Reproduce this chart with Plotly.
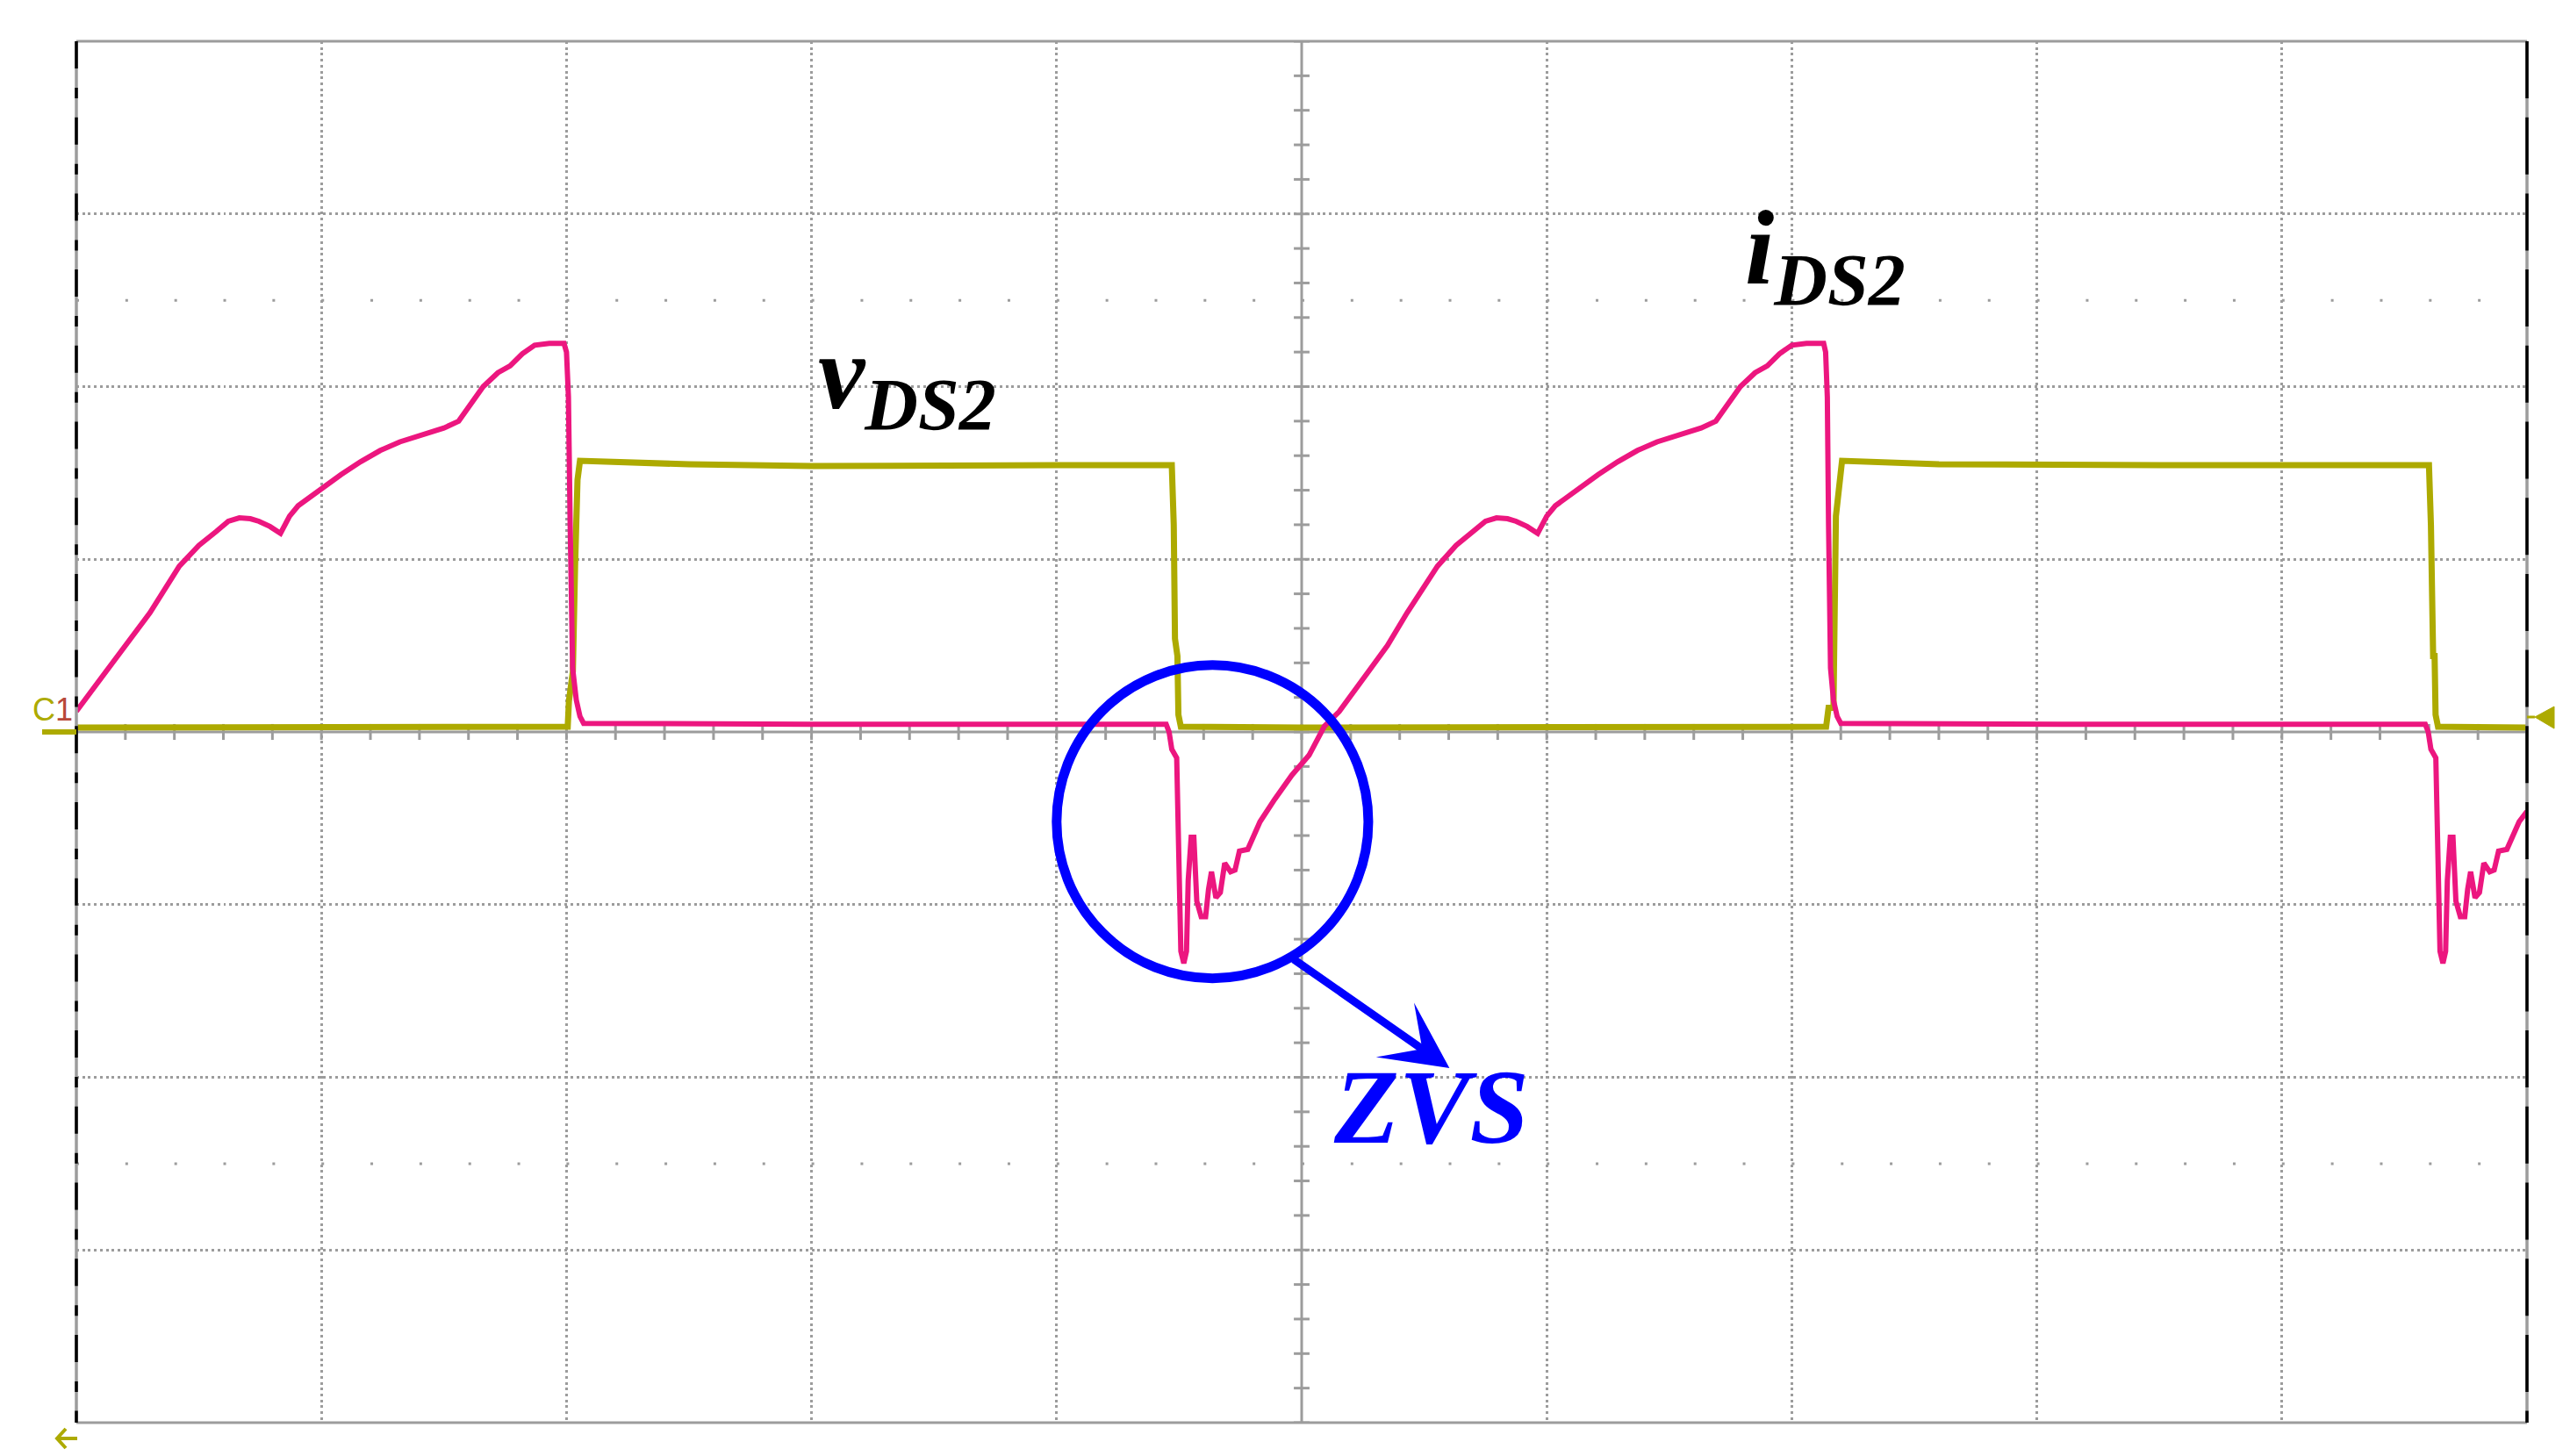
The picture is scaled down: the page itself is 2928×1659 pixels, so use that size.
import plotly.graph_objects as go

# ---------------- data (time and amplitude in screen divisions) ----------------
# v_DS2 (yellow trace)
vds2_t = [0.000, 1.000, 2.000, 2.005, 2.010, 2.026, 2.035, 2.045, 2.055,
          2.500, 3.000, 3.500, 4.000, 4.470, 4.478, 4.483, 4.487, 4.493, 4.497, 4.507,
          5.000, 6.000, 7.000, 7.140, 7.150, 7.170, 7.180, 7.195, 7.205,
          7.600, 8.000, 8.500, 9.000, 9.600, 9.608, 9.613, 9.617, 9.623, 9.627, 9.637,
          10.000]
vds2_v = [0.025, 0.025, 0.025, 0.030, 0.180, 0.350, 0.960, 1.460, 1.570,
          1.550, 1.540, 1.545, 1.545, 1.545, 1.200, 0.540, 0.440, 0.440, 0.100, 0.030,
          0.025, 0.025, 0.025, 0.030, 0.140, 0.140, 1.250, 1.480, 1.570,
          1.550, 1.545, 1.545, 1.545, 1.545, 1.200, 0.540, 0.440, 0.440, 0.100, 0.030,
          0.025]

# i_DS2 (pink trace)
ids2_t = [0.000, 0.100, 0.200, 0.300, 0.420, 0.500, 0.570, 0.620, 0.665, 0.710,
          0.745, 0.790, 0.833, 0.870, 0.905, 1.000, 1.080, 1.160, 1.240, 1.320,
          1.410, 1.500, 1.560, 1.610, 1.660, 1.720, 1.770, 1.820, 1.870, 1.930,
          1.990, 2.000, 2.008, 2.015, 2.025, 2.040, 2.055, 2.070,
          2.500, 3.000, 3.500, 4.000, 4.447, 4.459, 4.470, 4.490, 4.495, 4.507,
          4.519, 4.530, 4.537, 4.549, 4.560, 4.572, 4.590, 4.608, 4.620, 4.632,
          4.650, 4.668, 4.686, 4.710, 4.728, 4.746, 4.780, 4.830, 4.890, 4.960,
          5.030, 5.093, 5.153, 5.250, 5.350, 5.430, 5.554, 5.630, 5.700, 5.750,
          5.795, 5.840, 5.875, 5.920, 5.963, 6.000, 6.035, 6.130, 6.210, 6.290,
          6.370, 6.450, 6.540, 6.630, 6.690, 6.740, 6.790, 6.850, 6.900, 6.950,
          7.000, 7.060, 7.130, 7.138, 7.145, 7.150, 7.158, 7.170, 7.185, 7.200,
          7.600, 8.100, 8.600, 9.100, 9.585, 9.597, 9.608, 9.628, 9.633, 9.645,
          9.657, 9.668, 9.675, 9.687, 9.698, 9.710, 9.728, 9.746, 9.758, 9.770,
          9.788, 9.806, 9.824, 9.848, 9.866, 9.884, 9.918, 9.968, 10.000]
ids2_i = [0.120, 0.310, 0.505, 0.690, 0.960, 1.080, 1.160, 1.220, 1.240, 1.235,
          1.220, 1.190, 1.150, 1.250, 1.310, 1.410, 1.490, 1.565, 1.630, 1.680,
          1.720, 1.760, 1.800, 1.900, 2.000, 2.080, 2.120, 2.190, 2.240, 2.250,
          2.250, 2.200, 1.940, 1.200, 0.370, 0.185, 0.090, 0.050,
          0.045, 0.045, 0.045, 0.045, 0.045, 0.000, -0.100, -0.150, -0.420, -1.270,
          -1.340, -1.270, -0.860, -0.610, -0.610, -0.980, -1.070, -1.070, -0.910, -0.810,
          -0.960, -0.930, -0.760, -0.810, -0.800, -0.690, -0.680, -0.520, -0.390, -0.250,
          -0.135, 0.034, 0.118, 0.310, 0.500, 0.690, 0.960, 1.080, 1.160, 1.220,
          1.240, 1.235, 1.220, 1.190, 1.150, 1.250, 1.310, 1.410, 1.490, 1.565,
          1.630, 1.680, 1.720, 1.760, 1.800, 1.900, 2.000, 2.080, 2.120, 2.190,
          2.240, 2.250, 2.250, 2.200, 1.940, 1.200, 0.370, 0.185, 0.090, 0.050,
          0.045, 0.045, 0.045, 0.045, 0.045, 0.000, -0.100, -0.150, -0.420, -1.270,
          -1.340, -1.270, -0.860, -0.610, -0.610, -0.980, -1.070, -1.070, -0.910, -0.810,
          -0.960, -0.930, -0.760, -0.810, -0.800, -0.690, -0.680, -0.520, -0.460]

# screen grid (divisions)
X_RANGE = [0, 10]
Y_RANGE = [-4, 4]
X_GRID = [1, 2, 3, 4, 6, 7, 8, 9]
Y_GRID = [-3, -2, -1, 1, 2, 3]

# ---------------- styling ----------------
W, H = 2928, 1659
ML, MR, MT, MB = 79, 57, 39, 46
VDS_COLOR = "#ADAA00"
IDS_COLOR = "#EC167F"
GRID = "#9C9C9C"
BLUE = "#0000FF"
SERIF = "Liberation Serif"

fig = go.Figure()
fig.add_trace(go.Scatter(x=vds2_t, y=vds2_v, mode="lines", name="vDS2",
                         line=dict(color=VDS_COLOR, width=7), hoverinfo="skip"))
fig.add_trace(go.Scatter(x=ids2_t, y=ids2_i, mode="lines", name="iDS2",
                         line=dict(color=IDS_COLOR, width=6), hoverinfo="skip"))

shapes = []
# sub-division dot rows at +/-2.5 div
for yy in (2.5, -2.5):
    shapes.append(dict(type="line", xref="x", yref="y", x0=0, x1=10, y0=yy, y1=yy,
                       line=dict(color=GRID, width=3, dash="3px,52.84px"), layer="below"))
# centre cross
shapes.append(dict(type="line", xref="x", yref="y", x0=5, x1=5, y0=-4, y1=4,
                   line=dict(color=GRID, width=3), layer="below"))
shapes.append(dict(type="line", xref="x", yref="y", x0=0, x1=10, y0=0, y1=0,
                   line=dict(color=GRID, width=3), layer="below"))
for k in range(-20, 21):
    yy = k * 0.2
    shapes.append(dict(type="line", xref="x", yref="y", x0=5 - 0.032, x1=5 + 0.032, y0=yy, y1=yy,
                       line=dict(color=GRID, width=3), layer="below"))
for k in range(0, 51):
    xx = k * 0.2
    shapes.append(dict(type="line", xref="x", yref="y", x0=xx, x1=xx, y0=-0.046, y1=0.046,
                       line=dict(color=GRID, width=3), layer="below"))

# frame
shapes.append(dict(type="line", xref="paper", yref="paper", x0=0, x1=1, y0=1, y1=1,
                   line=dict(color=GRID, width=3), layer="above"))
shapes.append(dict(type="line", xref="paper", yref="paper", x0=0, x1=1, y0=0, y1=0,
                   line=dict(color=GRID, width=3), layer="above"))
for xx, dash in ((0, "31px,22px,12px,21.7px"), (1, "65px,21.7px")):
    shapes.append(dict(type="line", xref="paper", yref="paper", x0=xx, x1=xx, y0=1, y1=0,
                       line=dict(color=GRID, width=3.5), layer="above"))
    shapes.append(dict(type="line", xref="paper", yref="paper", x0=xx, x1=xx, y0=1, y1=0,
                       line=dict(color="black", width=3.5, dash=dash), layer="above"))

# channel markers
shapes.append(dict(type="line", xref="paper", yref="y", x0=-0.01397, x1=0, y0=0, y1=0,
                   line=dict(color=VDS_COLOR, width=6), layer="above"))
shapes.append(dict(type="line", xref="paper", yref="paper", x0=1.0, x1=1.0032, y0=0.5108, y1=0.5108,
                   line=dict(color=VDS_COLOR, width=3), layer="above"))
shapes.append(dict(type="path", xref="paper", yref="paper",
                   path="M1.00322,0.5108 L1.0111,0.5184 L1.0111,0.5025 Z",
                   fillcolor=VDS_COLOR, line=dict(color=VDS_COLOR, width=1), layer="above"))
shapes.append(dict(type="path", xref="paper", yref="paper",
                   path="M0.00036,-0.01144 L-0.00788,-0.01144 M-0.0043,-0.00445 L-0.00788,-0.01144 L-0.0043,-0.01842",
                   line=dict(color=VDS_COLOR, width=4), layer="above"))

# ZVS circle
shapes.append(dict(type="circle", xref="x", yref="y", x0=4.0, x1=5.272, y0=-1.427, y1=0.387,
                   line=dict(color=BLUE, width=11), layer="above"))

annotations = [
    dict(x=3.02, y=2.04, xref="x", yref="y", text="<b><i>v<sub>DS2</sub></i></b>",
         showarrow=False, xanchor="left", yanchor="middle",
         font=dict(family=SERIF, size=120, color="black")),
    dict(x=6.80, y=2.76, xref="x", yref="y", text="<b><i>i<sub>DS2</sub></i></b>",
         showarrow=False, xanchor="left", yanchor="middle",
         font=dict(family=SERIF, size=120, color="black")),
    dict(x=5.53, y=-2.17, xref="x", yref="y", text="<b><i>ZVS</i></b>",
         showarrow=False, xanchor="center", yanchor="middle",
         font=dict(family=SERIF, size=121, color=BLUE)),
    dict(x=5.603, y=-1.946, xref="x", yref="y", ax=4.962, ay=-1.311, axref="x", ayref="y",
         text="", showarrow=True, arrowhead=3, arrowsize=1.4, arrowwidth=9, arrowcolor=BLUE),
    dict(x=-0.0098, y=0.5165, xref="paper", yref="paper",
         text='<span style="color:#ADAA00">C</span><span style="color:#B8483A">1</span>',
         showarrow=False, xanchor="center", yanchor="middle",
         font=dict(family="Liberation Sans", size=36, color=VDS_COLOR)),
]

axis_common = dict(showticklabels=False, ticks="", zeroline=False, showline=False,
                   showgrid=True, gridcolor=GRID, gridwidth=3, griddash="3px,3.7px",
                   fixedrange=True)
fig.update_layout(
    width=W, height=H, autosize=False,
    margin=dict(l=ML, r=MR, t=MT, b=MB, pad=0),
    paper_bgcolor="white", plot_bgcolor="white",
    showlegend=False,
    xaxis=dict(range=X_RANGE, tickvals=X_GRID, **axis_common),
    yaxis=dict(range=Y_RANGE, tickvals=Y_GRID, **axis_common),
    shapes=shapes,
    annotations=annotations,
)

fig.write_html("out.html")
